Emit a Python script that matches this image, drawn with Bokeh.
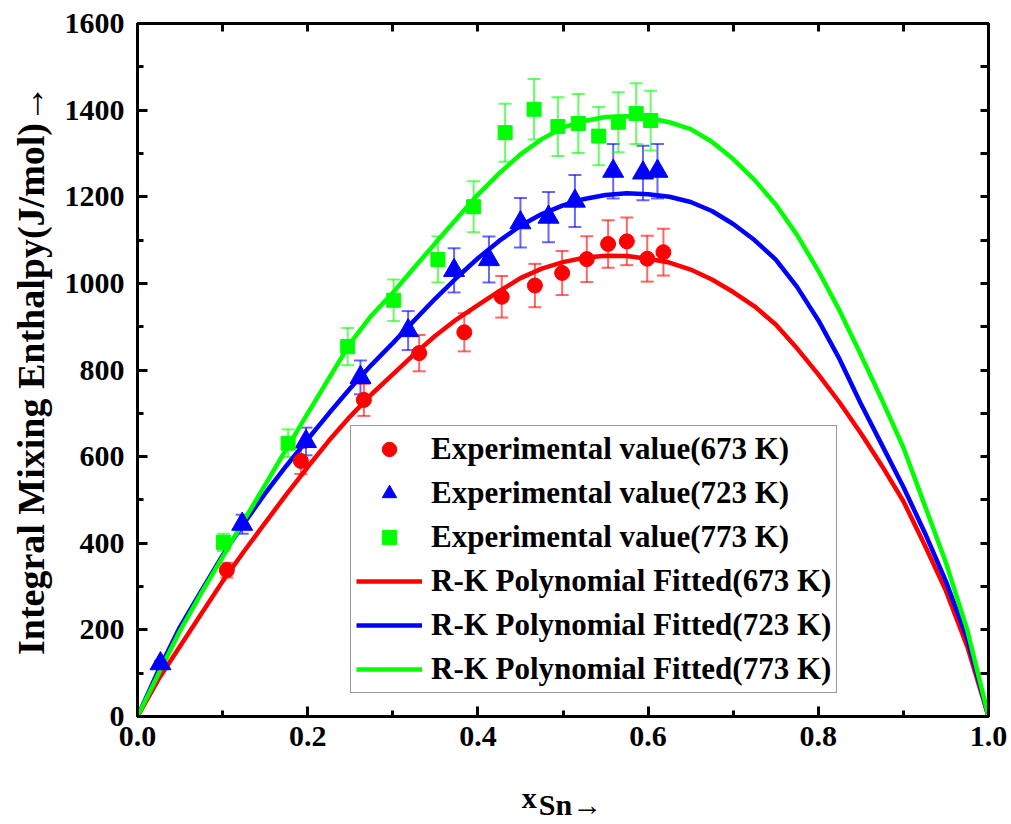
from bokeh.plotting import figure
from bokeh.models import (Range1d, LinearAxis, FixedTicker, PrintfTickFormatter,
                          ColumnDataSource, Whisker, TeeHead, Legend, LegendItem)
from bokeh.embed import file_html
from bokeh.resources import INLINE

# ---------------- data ----------------
red_x = [0.105, 0.192, 0.266, 0.331, 0.384, 0.428, 0.467, 0.499, 0.528, 0.553, 0.575, 0.599, 0.618]
red_y = [338, 590, 731, 839, 887, 969, 995, 1024, 1056, 1091, 1097, 1057, 1072]
red_err = [17, 30, 37, 42, 44, 48, 50, 51, 53, 55, 55, 53, 54]

blue_x = [0.027, 0.123, 0.198, 0.262, 0.318, 0.372, 0.413, 0.450, 0.483, 0.514, 0.559, 0.594, 0.611]
blue_y = [122, 444, 635, 783, 891, 1030, 1055, 1140, 1153, 1190, 1259, 1255, 1259]
blue_err = [6, 22, 32, 39, 45, 51, 53, 57, 58, 60, 63, 63, 63]

green_x = [0.101, 0.177, 0.247, 0.301, 0.353, 0.395, 0.432, 0.466, 0.494, 0.518, 0.542, 0.565, 0.586, 0.603]
green_y = [402, 631, 854, 961, 1055, 1177, 1348, 1402, 1362, 1369, 1340, 1372, 1392, 1376]
green_err = [20, 32, 43, 48, 53, 59, 67, 70, 68, 68, 67, 69, 70, 69]

fit_x = [0, 0.025, 0.05, 0.075, 0.1, 0.125, 0.15, 0.175, 0.2, 0.225, 0.25, 0.275, 0.3, 0.325,
         0.35, 0.375, 0.4, 0.425, 0.45, 0.475, 0.5, 0.525, 0.55, 0.575, 0.6, 0.625, 0.65,
         0.675, 0.7, 0.725, 0.75, 0.775, 0.8, 0.825, 0.85, 0.875, 0.9, 0.925, 0.95, 0.975, 1.0]
fit_red = [0, 87, 162, 237, 312, 381, 447, 513, 576, 637, 693, 744, 790, 836,
           879, 917, 950, 982, 1012, 1034, 1049, 1059, 1064, 1063, 1057, 1048, 1032,
           1009, 980, 947, 905, 850, 790, 725, 654, 578, 497, 396, 290, 162, 0]
fit_blue = [0, 108, 207, 290, 372, 446, 515, 579, 640, 700, 758, 812, 862, 914,
            965, 1013, 1058, 1098, 1133, 1160, 1180, 1195, 1204, 1208, 1206, 1200, 1188,
            1167, 1137, 1100, 1055, 992, 915, 825, 722, 626, 530, 425, 312, 180, 0]
fit_green = [0, 100, 198, 285, 368, 452, 535, 618, 700, 781, 862, 926, 978, 1036,
             1093, 1149, 1205, 1254, 1298, 1333, 1360, 1375, 1384, 1386, 1382, 1372, 1356,
             1327, 1287, 1239, 1182, 1112, 1029, 937, 835, 730, 621, 488, 355, 200, 0]

x_major_ticks = [0.0, 0.2, 0.4, 0.6, 0.8, 1.0]
x_minor_ticks = [0.1, 0.3, 0.5, 0.7, 0.9]
y_major_ticks = [0, 200, 400, 600, 800, 1000, 1200, 1400, 1600]
y_minor_ticks = [100, 300, 500, 700, 900, 1100, 1300, 1500]

labels_exp = ["Experimental value(673 K)", "Experimental value(723 K)", "Experimental value(773 K)"]
labels_fit = ["R-K Polynomial Fitted(673 K)", "R-K Polynomial Fitted(723 K)", "R-K Polynomial Fitted(773 K)"]

RED, BLUE, GREEN = "#ff0000", "#0000ff", "#00ff00"
FONT = "Liberation Serif"
NB = "\u00a0"

p = figure(width=1011, height=824, output_backend="svg", toolbar_location=None,
           x_range=Range1d(0, 1.0), y_range=Range1d(0, 1600),
           x_axis_label="x" + NB * 9,
           y_axis_label="Integral Mixing Enthalpy(J/mol)\u2192")
p.min_border_left = 137
p.min_border_right = 23
p.min_border_top = 23
p.min_border_bottom = 108
p.xgrid.visible = False
p.ygrid.visible = False
p.outline_line_color = "black"
p.outline_line_width = 3
p.background_fill_color = "white"
p.border_fill_color = "white"

p.xaxis.ticker = FixedTicker(ticks=x_major_ticks, minor_ticks=x_minor_ticks)
p.yaxis.ticker = FixedTicker(ticks=y_major_ticks, minor_ticks=y_minor_ticks)
p.xaxis.formatter = PrintfTickFormatter(format="%.1f")


def style_axis(ax):
    ax.axis_line_width = 3
    ax.axis_line_color = "black"
    ax.major_tick_in = 10
    ax.major_tick_out = 0
    ax.minor_tick_in = 6
    ax.minor_tick_out = 0
    ax.major_tick_line_width = 3
    ax.minor_tick_line_width = 3
    ax.major_tick_line_color = "black"
    ax.minor_tick_line_color = "black"
    ax.major_label_text_font = FONT
    ax.major_label_text_font_style = "bold"
    ax.major_label_text_color = "black"
    ax.major_label_text_font_size = "30px"
    ax.axis_label_text_font = FONT
    ax.axis_label_text_font_style = "bold"
    ax.axis_label_text_color = "black"


for ax in p.xaxis:
    style_axis(ax)
    ax.major_label_standoff = 10
    ax.axis_label_text_font_size = "30px"
    ax.axis_label_standoff = 32
for ax in p.yaxis:
    style_axis(ax)
    ax.major_label_standoff = 13
    ax.axis_label_text_font_size = "38px"
    ax.axis_label_standoff = 10

# top and right frame ticks (no labels)
top_ax = LinearAxis(ticker=FixedTicker(ticks=[], minor_ticks=x_major_ticks + x_minor_ticks))
style_axis(top_ax)
top_ax.minor_tick_in = 8
p.add_layout(top_ax, "above")
right_ax = LinearAxis(ticker=FixedTicker(ticks=[], minor_ticks=y_major_ticks + y_minor_ticks))
style_axis(right_ax)
right_ax.minor_tick_in = 8
p.add_layout(right_ax, "right")

# second part of the x title: "Sn->" (subscript-like, lower than "x")
sub_ax = LinearAxis(ticker=FixedTicker(ticks=[]), axis_label=NB * 2 + "Sn\u2192")
style_axis(sub_ax)
sub_ax.axis_line_color = None
sub_ax.major_label_standoff = 0
sub_ax.axis_label_text_font_size = "30px"
sub_ax.axis_label_standoff = -29
p.add_layout(sub_ax, "below")

# ---------------- error bars ----------------
def add_err(xs, ys, es, color):
    src = ColumnDataSource(dict(x=xs, lo=[y - e for y, e in zip(ys, es)],
                                hi=[y + e for y, e in zip(ys, es)]))
    w = Whisker(source=src, base="x", lower="lo", upper="hi", dimension="height",
                line_color=color, line_alpha=0.6, line_width=2,
                lower_head=TeeHead(size=13, line_color=color, line_alpha=0.6, line_width=2),
                upper_head=TeeHead(size=13, line_color=color, line_alpha=0.6, line_width=2))
    p.add_layout(w)


add_err(red_x, red_y, red_err, RED)
add_err(blue_x, blue_y, blue_err, BLUE)
add_err(green_x, green_y, green_err, GREEN)

# ---------------- fitted curves ----------------
l_red = p.line(fit_x, fit_red, line_color=RED, line_width=4.5)
l_blue = p.line(fit_x, fit_blue, line_color=BLUE, line_width=4.5)
l_green = p.line(fit_x, fit_green, line_color=GREEN, line_width=4.5)

# ---------------- experimental points ----------------
s_red = p.scatter(red_x, red_y, marker="circle", size=15, fill_color=RED, line_color=RED)
s_blue = p.scatter(blue_x, blue_y, marker="triangle", size=21, fill_color=BLUE, line_color=BLUE)
s_green = p.scatter(green_x, green_y, marker="square", size=14, fill_color=GREEN, line_color=GREEN)

legend = Legend(items=[
    LegendItem(label=labels_exp[0], renderers=[s_red]),
    LegendItem(label=labels_exp[1], renderers=[s_blue]),
    LegendItem(label=labels_exp[2], renderers=[s_green]),
    LegendItem(label=labels_fit[0], renderers=[l_red]),
    LegendItem(label=labels_fit[1], renderers=[l_blue]),
    LegendItem(label=labels_fit[2], renderers=[l_green]),
], location=(213, 23))
legend.label_text_font = FONT
legend.label_text_font_style = "bold"
legend.label_text_font_size = "31px"
legend.label_text_color = "black"
legend.glyph_width = 66
legend.glyph_height = 36
legend.label_height = 36
legend.spacing = 8
legend.padding = 5
legend.margin = 0
legend.label_standoff = 9
legend.border_line_color = "#333333"
legend.border_line_width = 1.5
legend.background_fill_color = "white"
legend.background_fill_alpha = 1.0
p.add_layout(legend)

open("out.html", "w").write(file_html(p, INLINE))
